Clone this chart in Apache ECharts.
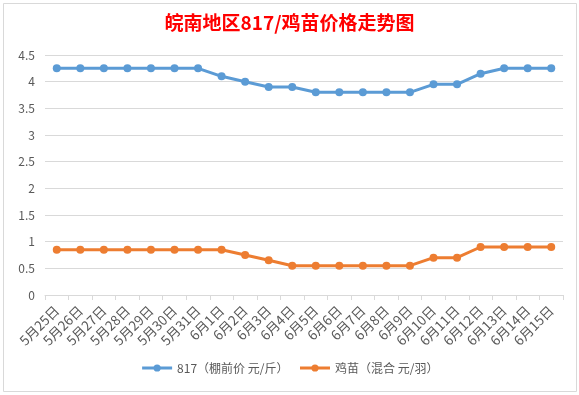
<!DOCTYPE html>
<html><head><meta charset="utf-8">
<script src="https://cdn.jsdelivr.net/npm/echarts@6/dist/echarts.min.js"></script>
<style>html,body{margin:0;padding:0;background:#fff}#c{width:579px;height:395px}</style>
</head><body><div id="c"></div>
<script>
const categories = ['5月25日','5月26日','5月27日','5月28日','5月29日','5月30日','5月31日','6月1日','6月2日','6月3日','6月4日','6月5日','6月6日','6月7日','6月8日','6月9日','6月10日','6月11日','6月12日','6月13日','6月14日','6月15日'];
const price817 = [4.25,4.25,4.25,4.25,4.25,4.25,4.25,4.1,4.0,3.9,3.9,3.8,3.8,3.8,3.8,3.8,3.95,3.95,4.15,4.25,4.25,4.25];
const chickPrice = [0.85,0.85,0.85,0.85,0.85,0.85,0.85,0.85,0.75,0.65,0.55,0.55,0.55,0.55,0.55,0.55,0.7,0.7,0.9,0.9,0.9,0.9];
const seriesNames = ['817（棚前价 元/斤）','鸡苗（混合 元/羽）'];
const titleText = '皖南地区817/鸡苗价格走势图';

const chart = echarts.init(document.getElementById('c'), null, {renderer:'canvas'});
const font = '"Noto Sans CJK SC", "Microsoft YaHei", sans-serif';
chart.setOption({
  animation:false,
  backgroundColor:'#fff',
  textStyle:{fontFamily:font},
  graphic:[{type:'rect',shape:{x:3.5,y:3.5,width:573,height:388},style:{fill:'none',stroke:'#d9d9d9',lineWidth:1},silent:true}],
  title:{text:titleText,left:'center',top:8,textStyle:{color:'#ff0000',fontSize:19,fontWeight:'bold',fontFamily:font}},
  legend:{bottom:16,left:'center',itemWidth:30,itemHeight:9,itemGap:10,
    lineStyle:{width:3},
    textStyle:{color:'#595959',fontSize:12,fontFamily:font},
    data:seriesNames},
  grid:{left:45,right:16,top:55,bottom:100,containLabel:false},
  xAxis:{type:'category',data:categories,boundaryGap:true,
    axisLine:{lineStyle:{color:'#d9d9d9'}},
    axisTick:{show:true,length:5,lineStyle:{color:'#d9d9d9'}},
    axisLabel:{rotate:45,color:'#595959',fontSize:13.5,margin:13,interval:0,fontFamily:font}},
  yAxis:{type:'value',min:0,max:4.5,interval:0.5,
    axisLine:{show:false},axisTick:{show:false},
    splitLine:{lineStyle:{color:'#d9d9d9'}},
    axisLabel:{color:'#595959',fontSize:12,margin:10,fontFamily:font}},
  series:[
    {name:seriesNames[0],type:'line',data:price817,symbol:'circle',symbolSize:8,
     lineStyle:{width:3,color:'#5b9bd5'},itemStyle:{color:'#5b9bd5'}},
    {name:seriesNames[1],type:'line',data:chickPrice,symbol:'circle',symbolSize:8,
     lineStyle:{width:3,color:'#ed7d31'},itemStyle:{color:'#ed7d31'}}
  ]
});
</script></body></html>
